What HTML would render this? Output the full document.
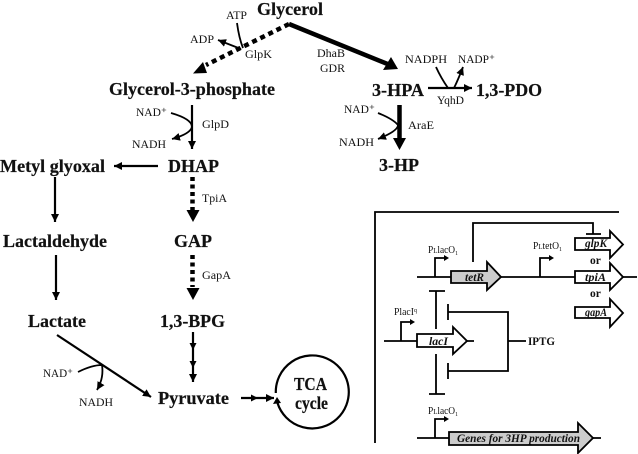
<!DOCTYPE html>
<html><head><meta charset="utf-8">
<style>
html,body{margin:0;padding:0;background:#fff;width:638px;height:454px;overflow:hidden}
svg{display:block;filter:blur(0.3px)}
text{font-family:"Liberation Serif",serif;fill:#111}
.b{font-weight:bold;font-size:17.5px;stroke:#111;stroke-width:.2px}
.s{font-size:12px}
.t{font-size:10.5px}
.g{font-weight:bold;font-style:italic;font-size:11.5px}
.l{fill:none;stroke:#000;stroke-width:2.2}
.p{fill:none;stroke:#000;stroke-width:1.8}
.k{fill:none;stroke:#000;stroke-width:1.8}
</style></head><body>
<svg width="638" height="454" viewBox="0 0 638 454" xmlns="http://www.w3.org/2000/svg">
<defs>
<marker id="a" markerUnits="userSpaceOnUse" markerWidth="10" markerHeight="10" refX="8" refY="4" orient="auto"><path d="M0,0L8,4L0,8z" fill="#000"/></marker>
</defs>

<!-- Labels: metabolites -->
<text class="b" x="257" y="15" textLength="66" lengthAdjust="spacingAndGlyphs">Glycerol</text>
<text class="b" x="109" y="95" textLength="166" lengthAdjust="spacingAndGlyphs">Glycerol-3-phosphate</text>
<text class="b" x="372" y="96" textLength="52" lengthAdjust="spacingAndGlyphs">3-HPA</text>
<text class="b" x="476" y="96" textLength="66" lengthAdjust="spacingAndGlyphs">1,3-PDO</text>
<text class="b" x="379" y="171" textLength="40" lengthAdjust="spacingAndGlyphs">3-HP</text>
<text class="b" x="0" y="172" textLength="105" lengthAdjust="spacingAndGlyphs">Metyl glyoxal</text>
<text class="b" x="168" y="172" textLength="51" lengthAdjust="spacingAndGlyphs">DHAP</text>
<text class="b" x="3" y="247" textLength="104" lengthAdjust="spacingAndGlyphs">Lactaldehyde</text>
<text class="b" x="174" y="247" textLength="38" lengthAdjust="spacingAndGlyphs">GAP</text>
<text class="b" x="28" y="327" textLength="58" lengthAdjust="spacingAndGlyphs">Lactate</text>
<text class="b" x="160" y="327" textLength="65" lengthAdjust="spacingAndGlyphs">1,3-BPG</text>
<text class="b" x="158" y="404" textLength="71" lengthAdjust="spacingAndGlyphs">Pyruvate</text>
<text class="b" x="294" y="390" textLength="33" lengthAdjust="spacingAndGlyphs">TCA</text>
<text class="b" x="295" y="409" textLength="33" lengthAdjust="spacingAndGlyphs">cycle</text>

<!-- Labels: cofactors, enzymes -->
<text class="s" x="226" y="19" textLength="21" lengthAdjust="spacingAndGlyphs">ATP</text>
<text class="s" x="190" y="43" textLength="24" lengthAdjust="spacingAndGlyphs">ADP</text>
<text class="s" x="245" y="58" textLength="27" lengthAdjust="spacingAndGlyphs">GlpK</text>
<text class="s" x="317" y="57" textLength="28" lengthAdjust="spacingAndGlyphs">DhaB</text>
<text class="s" x="320" y="72" textLength="25" lengthAdjust="spacingAndGlyphs">GDR</text>
<text class="s" x="136" y="116" textLength="31" lengthAdjust="spacingAndGlyphs">NAD⁺</text>
<text class="s" x="202" y="128" textLength="27" lengthAdjust="spacingAndGlyphs">GlpD</text>
<text class="s" x="132" y="148" textLength="34" lengthAdjust="spacingAndGlyphs">NADH</text>
<text class="s" x="405" y="63" textLength="42" lengthAdjust="spacingAndGlyphs">NADPH</text>
<text class="s" x="458" y="63" textLength="37" lengthAdjust="spacingAndGlyphs">NADP⁺</text>
<text class="s" x="437" y="104" textLength="27" lengthAdjust="spacingAndGlyphs">YqhD</text>
<text class="s" x="344" y="113" textLength="31" lengthAdjust="spacingAndGlyphs">NAD⁺</text>
<text class="s" x="339" y="146" textLength="35" lengthAdjust="spacingAndGlyphs">NADH</text>
<text class="s" x="408" y="129" textLength="26" lengthAdjust="spacingAndGlyphs">AraE</text>
<text class="s" x="202" y="202" textLength="25" lengthAdjust="spacingAndGlyphs">TpiA</text>
<text class="s" x="202" y="279" textLength="29" lengthAdjust="spacingAndGlyphs">GapA</text>
<text class="s" x="43" y="377" textLength="30" lengthAdjust="spacingAndGlyphs">NAD⁺</text>
<text class="s" x="79" y="406" textLength="34" lengthAdjust="spacingAndGlyphs">NADH</text>

<!-- Glycerol branches -->
<path d="M289,24L206,65" fill="none" stroke="#000" stroke-width="4.500" stroke-dasharray="5,4"/>
<path d="M193,73.5L203,62L207,73z" fill="#000"/>
<path d="M289,24L390,65" fill="none" stroke="#000" stroke-width="4.500"/>
<path d="M398,69L383,70L391,57z" fill="#000"/>
<path class="k" d="M237,23Q239,38 243,48"/>
<path class="k" d="M241,49L218,40" marker-end="url(#a)"/>

<!-- GlpD -->
<path class="l" d="M192,105V149" marker-end="url(#a)"/>
<path class="k" d="M171,113Q192,119 192,127Q190,134 172,139" marker-end="url(#a)"/>

<!-- YqhD -->
<path class="l" d="M428,88H472" marker-end="url(#a)"/>
<path class="k" d="M436,67Q441,78 448,88"/>
<path class="k" d="M454,88Q458,80 463,67" marker-end="url(#a)"/>

<!-- AraE -->
<path d="M399.5,105V140" fill="none" stroke="#000" stroke-width="4.500"/>
<path d="M393,138H406L399.5,150z" fill="#000"/>
<path class="k" d="M378,113Q393,119 398,125Q398,131 378,139" marker-end="url(#a)"/>

<!-- Left column -->
<path class="l" d="M158,166H114" marker-end="url(#a)"/>
<path class="l" d="M55,177V222" marker-end="url(#a)"/>
<path class="l" d="M56,255V300" marker-end="url(#a)"/>
<path class="l" d="M57,335L151,397" marker-end="url(#a)"/>
<path class="k" d="M78,372Q92,365 102,365Q104,378 97,390" marker-end="url(#a)"/>

<!-- Dashed -->
<path d="M192.5,177V210" fill="none" stroke="#000" stroke-width="4.500" stroke-dasharray="4,3.5"/>
<path d="M186.500,210H199.500L193,222z" fill="#000"/>
<path d="M192.5,255V287" fill="none" stroke="#000" stroke-width="4.500" stroke-dasharray="4,3.5"/>
<path d="M186.500,288H199.500L193,300z" fill="#000"/>

<!-- BPG to pyruvate -->
<path class="l" d="M193,332V382" marker-end="url(#a)"/>
<path d="M189.500,343L193,350L196.500,343zM189.500,361L193,368L196.500,361z" fill="#000"/>

<!-- Pyruvate to TCA -->
<path class="l" d="M241,398H274" marker-end="url(#a)"/>
<path d="M251,394.500L258,398L251,401.500z" fill="#000"/>
<path d="M275.800,393A36.500,36.500 0 1 1 277.500,403" fill="none" stroke="#000" stroke-width="2.200"/>
<path d="M277,397L273,404L281,403z" fill="#000"/>

<!-- Panel -->
<path class="p" d="M619,212H375V443"/>
<path class="p" d="M417,277H451M501,277H575M623,277H637M384,341H417M467,341H474M417,438H449M593,438H601"/>
<path class="p" d="M473,262V223H593V234M586,234H601"/>
<path class="p" d="M429,291H445M436,291V329M436,354V394M429,394H445"/>
<path class="p" d="M448,304V320M448,312H508V371H448M448,363V379M508,341H526"/>

<!-- Promoters -->
<path class="p" d="M435,277V258H444"/><path d="M444,255L449,258L444,261z"/>
<path class="p" d="M540,277V258H549"/><path d="M549,255L554,258L549,261z"/>
<path class="p" d="M401,341V322H410"/><path d="M410,319L415,322L410,325z"/>
<path class="p" d="M435,438V419H444"/><path d="M444,416L449,419L444,422z"/>

<!-- Genes -->
<path d="M451,271H487V262L501,277L487,290V283H451z" fill="#ccc" stroke="#000" stroke-width="1.800"/>
<path d="M575,238H610V231L623,244.500L610,258V250H575z" fill="#fff" stroke="#000" stroke-width="1.800"/>
<path d="M575,271H610V263L623,277L610,290V283H575z" fill="#fff" stroke="#000" stroke-width="1.800"/>
<path d="M575,307H610V299L623,313L610,327V318H575z" fill="#fff" stroke="#000" stroke-width="1.800"/>
<path d="M417,334H453V327L467,341L453,354V347H417z" fill="#fff" stroke="#000" stroke-width="1.800"/>
<path d="M449,432H578V423L593,438L578,453V445H449z" fill="#ccc" stroke="#000" stroke-width="1.800"/>

<text class="g" x="465" y="281" textLength="19" lengthAdjust="spacingAndGlyphs">tetR</text>
<text class="g" x="585" y="247" textLength="22" lengthAdjust="spacingAndGlyphs">glpK</text>
<text class="g" x="585" y="281" textLength="21" lengthAdjust="spacingAndGlyphs">tpiA</text>
<text class="g" x="585" y="316" textLength="22" lengthAdjust="spacingAndGlyphs">gapA</text>
<text class="g" x="429" y="345" textLength="19" lengthAdjust="spacingAndGlyphs">lacI</text>
<text class="g" x="457" y="442" textLength="123" lengthAdjust="spacingAndGlyphs">Genes for 3HP production</text>
<text x="590" y="264" font-size="11.5" font-weight="bold">or</text>
<text x="590" y="297" font-size="11.5" font-weight="bold">or</text>
<text x="528" y="345" font-size="12" font-weight="bold" textLength="27" lengthAdjust="spacingAndGlyphs">IPTG</text>
<text class="t" x="428" y="253" textLength="30" lengthAdjust="spacingAndGlyphs">P<tspan font-size="7.500">L</tspan>lacO<tspan font-size="6.500" dy="2">1</tspan></text>
<text class="t" x="533" y="249" textLength="29" lengthAdjust="spacingAndGlyphs">P<tspan font-size="7.500">L</tspan>tetO<tspan font-size="6.500" dy="2">1</tspan></text>
<text class="t" x="394" y="315" textLength="23" lengthAdjust="spacingAndGlyphs">PlacI<tspan font-size="6.500" dy="-3">q</tspan></text>
<text class="t" x="428" y="414" textLength="30" lengthAdjust="spacingAndGlyphs">P<tspan font-size="7.500">L</tspan>lacO<tspan font-size="6.500" dy="2">1</tspan></text>
</svg>
</body></html>
